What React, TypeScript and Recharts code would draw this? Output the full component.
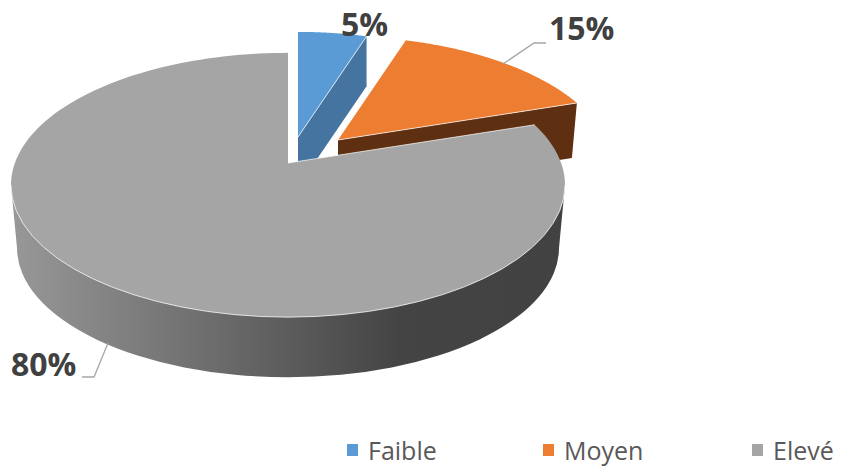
import React from "react";
import { PieChart, Pie, Legend } from "recharts";

const categories = ["Faible", "Moyen", "Elevé"];
const shares = [5, 15, 80];
const topColors = ["#5b9bd5", "#ed7d31", "#a5a5a5"];
const wallColors = ["#44749f", "#5e2f10", "url(#grayWall)"];

const rows = categories.map((name, i) => ({ name, value: shares[i], fill: topColors[i] }));

const TILT = 0.477;
const PIE = { cx: 288, cy: 185, radius: 277 };
const GRAY_BASE = { dy: 63, radius: 271 };

// Exploded 3D placement of each slice relative to the pie centre.
const views = [
  { dx: 10, dy: -31, r: 256, lift: 17, shiftX: 0, shiftY: 50 },
  { dx: 50, dy: -18, r: 274, lift: 27, shiftX: -5, shiftY: 55 },
  { dx: 0, dy: 0, r: 277, lift: 22, shiftX: 0, shiftY: 0 },
];

const labelLayout = [
  { x: 341, y: 36, line: "" },
  { x: 549, y: 40, line: "M503 64 L534 43 L546 43" },
  { x: 11, y: 376, line: "M108 343 L94 377 L82 377" },
];

function rimPoint(theta: number, cx: number, cy: number, r: number, lift: number) {
  const dx = Math.sin(theta);
  const dy = -Math.cos(theta) * TILT;
  const ry = r * TILT;
  const a = (dx * dx) / (r * r) + (dy * dy) / (ry * ry);
  const b = (2 * dy * -lift) / (ry * ry);
  const c = (lift * lift) / (ry * ry) - 1;
  const t = (-b + Math.sqrt(b * b - 4 * a * c)) / (2 * a);
  return { x: cx + t * dx, y: cy - lift + t * dy };
}

function Slice3D(props: any) {
  const { cx, cy, startAngle, endAngle, fill, index } = props;
  const v = views[index];
  const ex = cx + v.dx;
  const ey = cy + v.dy;
  const apex = { x: ex, y: ey - v.lift };
  const a0 = ((90 - startAngle) * Math.PI) / 180;
  const a1 = ((90 - endAngle) * Math.PI) / 180;
  const n = 160;
  const pts = [];
  for (let i = 0; i <= n; i++) {
    const p = rimPoint(a0 + ((a1 - a0) * i) / n, ex, ey, v.r, v.lift);
    pts.push(`${p.x.toFixed(2)} ${p.y.toFixed(2)}`);
  }
  const top = `M${apex.x} ${apex.y} L${pts.join(" L")} Z`;
  if (index === 2) {
    const bx = GRAY_BASE.radius;
    const by = bx * TILT;
    const wall = `M${ex - v.r} ${ey} L${ex - bx} ${ey + GRAY_BASE.dy} A${bx} ${by} 0 0 0 ${ex + bx} ${ey + GRAY_BASE.dy} L${ex + v.r} ${ey} Z`;
    return (
      <g>
        <defs>
          <linearGradient id="grayWall" gradientUnits="userSpaceOnUse" x1={11} y1={0} x2={565} y2={0}>
            <stop offset="0" stopColor="#989898" />
            <stop offset="0.2" stopColor="#808080" />
            <stop offset="0.5" stopColor="#5c5c5c" />
            <stop offset="0.7" stopColor="#444444" />
            <stop offset="1" stopColor="#424242" />
          </linearGradient>
        </defs>
        <path d={wall} fill={wallColors[index]} />
        <path d={top} fill={fill} />
        <path
          d={`M${ex - v.r} ${ey} A${v.r} ${v.r * TILT} 0 0 0 ${ex + v.r} ${ey}`}
          fill="none"
          stroke="#ffffff"
          strokeOpacity={0.75}
          strokeWidth={1}
        />
        <path d={`M${apex.x} ${apex.y} L${pts[0]}`} stroke="#ffffff" strokeOpacity={0.7} strokeWidth={1} fill="none" />
      </g>
    );
  }
  const end = rimPoint(a1, ex, ey, v.r, v.lift);
  const wall = `M${apex.x} ${apex.y} L${end.x} ${end.y} L${end.x + v.shiftX} ${end.y + v.shiftY} L${apex.x} ${apex.y + v.shiftY} Z`;
  return (
    <g>
      <path d={wall} fill={wallColors[index]} />
      <path d={top} fill={fill} />
      <path d={`M${apex.x} ${apex.y} L${end.x} ${end.y}`} stroke="#ffffff" strokeOpacity={0.7} strokeWidth={1} fill="none" />
    </g>
  );
}

function SliceLabel(props: any) {
  const { index, value } = props;
  const l = labelLayout[index];
  return (
    <g>
      {l.line ? <path d={l.line} fill="none" stroke="#a6a6a6" strokeWidth={1.3} /> : null}
      <text x={l.x} y={l.y} fontFamily="'Open Sans', sans-serif" fontWeight={700} fontSize={32} fill="#404040">
        {`${value}%`}
      </text>
    </g>
  );
}

const legendX = [347, 543, 752];

function LegendBlock(props: any) {
  const items = props.payload || [];
  return (
    <div style={{ position: "relative", width: 844, height: 32 }}>
      {items.map((it: any, i: number) => (
        <div key={it.value} style={{ position: "absolute", left: legendX[i], top: 0, height: 32, display: "flex", alignItems: "center" }}>
          <span style={{ display: "inline-block", width: 11, height: 12, background: it.color, marginRight: 10 }} />
          <span style={{ fontFamily: "'Open Sans', sans-serif", fontSize: 25, color: "#595959", lineHeight: "32px" }}>{it.value}</span>
        </div>
      ))}
    </div>
  );
}

export default function App() {
  return (
    <div style={{ position: "absolute", left: 0, top: 0, width: 844, height: 466, background: "#fff" }}>
      <PieChart width={844} height={466} margin={{ top: 0, right: 0, bottom: 0, left: 0 }}>
        <Pie
          data={rows}
          dataKey="value"
          nameKey="name"
          cx={PIE.cx}
          cy={PIE.cy}
          outerRadius={PIE.radius}
          startAngle={90}
          endAngle={-270}
          stroke="none"
          legendType="square"
          isAnimationActive={false}
          shape={Slice3D}
          label={SliceLabel}
          labelLine={false}
        />
        <Legend
          content={LegendBlock}
          itemSorter={null}
          wrapperStyle={{ position: "absolute", left: 0, top: 434, width: 844, height: 32 }}
        />
      </PieChart>
    </div>
  );
}
